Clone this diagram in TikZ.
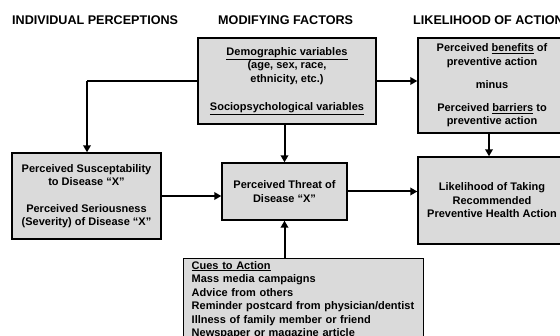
\documentclass[tikz,border=0pt]{standalone}
\usepackage{fontspec}
\setmainfont{Liberation Sans}
\usetikzlibrary{arrows.meta}
\definecolor{boxgray}{RGB}{218,218,218}
\begin{document}
\begin{tikzpicture}[x=1pt,y=-1pt,
  box/.style={draw=black, line width=1.4pt, fill=boxgray, align=center, inner sep=0pt,
    font=\fontsize{11}{13.5}\selectfont\bfseries},
  hdr/.style={anchor=west, inner sep=0pt, font=\fontsize{12.6}{14}\selectfont\bfseries},
  conn/.style={line width=2pt, -{Triangle[length=7pt,width=7.5pt]}}
]
\useasboundingbox (0,0) rectangle (560,336);
\clip (0,0) rectangle (560,336);
\fill[white] (0,0) rectangle (560,336);

% headers
\node[hdr] (h1) at (12,20.5) {INDIVIDUAL PERCEPTIONS};
\node[hdr] (h2) at (218,20.5) {MODIFYING FACTORS};
\node[hdr] (h3) at (413,20.5) {LIKELIHOOD OF ACTION};

% boxes
\node[box, minimum width=178pt, minimum height=86pt] (demo) at (287,81)
  {\underline{Demographic variables}\\(age, sex, race,\\ethnicity, etc.)\\[14.5pt]\underline{Sociopsychological variables}};
\node[box, minimum width=148pt, minimum height=95pt] (ben) at (492,85.5)
  {Perceived \underline{benefits} of\\preventive action\\[10pt]minus\\[9pt]Perceived \underline{barriers} to\\preventive action};
\node[box, minimum width=149pt, minimum height=86pt] (susc) at (86.5,196)
  {Perceived Susceptability\\to Disease “X”\\[13pt]Perceived Seriousness\\(Severity) of Disease “X”};
\node[box, minimum width=125pt, minimum height=57pt] (threat) at (284.5,191.5)
  {Perceived Threat of\\Disease “X”};
\node[box, minimum width=148pt, minimum height=87pt] (like) at (492,200.5)
  {Likelihood of Taking\\Recommended\\Preventive Health Action};
\node[box, anchor=north west, align=left, text width=224pt, minimum height=100pt,
  inner xsep=8pt, inner ysep=2.5pt, text depth=90pt] (cues) at (183,258)
  {\underline{Cues to Action}\\Mass media campaigns\\Advice from others\\Reminder postcard from physician/dentist\\Illness of family member or friend\\Newspaper or magazine article};

% connectors
\coordinate (bend) at (87,81);
\draw[line width=2pt] (demo.west) -- (bend);
\draw[conn] (bend) -- (bend |- susc.north);
\draw[conn] (demo.east) -- (demo.east -| ben.west);
\draw[conn] (demo.south -| threat.north) -- (threat.north);
\draw[conn] (susc.east) -- (susc.east -| threat.west);
\draw[conn] (threat.east) -- (threat.east -| like.west);
\draw[conn] ([xshift=-3pt]ben.south) -- ([xshift=-3pt]like.north);
\draw[conn] (threat.south |- cues.north) -- (threat.south);
\end{tikzpicture}
\end{document}
